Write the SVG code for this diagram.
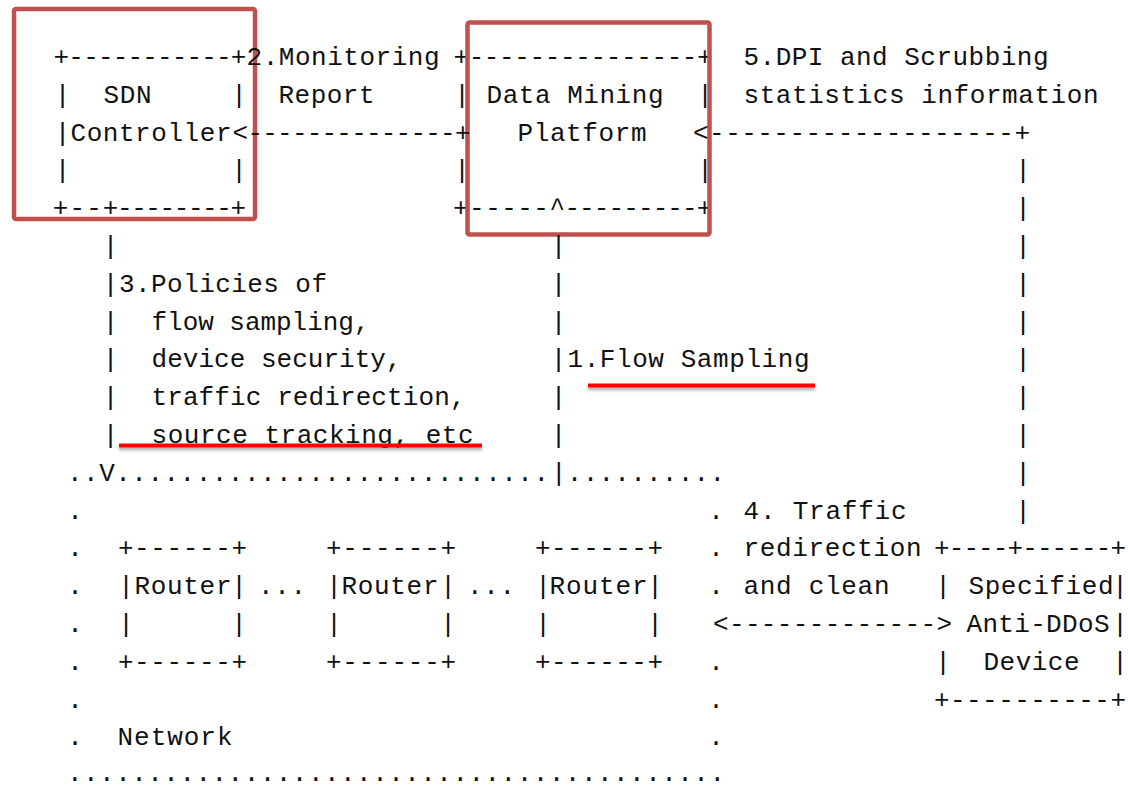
<svg xmlns="http://www.w3.org/2000/svg" width="1128" height="788" viewBox="0 0 1128 788">
  <defs>
    <style>
      .t { font-family: "Liberation Mono", "DejaVu Sans Mono", monospace; font-size: 26px; fill: #111; }
      .c { text-anchor: middle; }
      .frame { fill: none; stroke: #c0504d; stroke-width: 4.5; }
      .mark { fill: #ff0000; filter: url(#shade); }
    </style>
    <filter id="shade" x="-5%" y="-200%" width="110%" height="500%">
      <feDropShadow dx="0" dy="2.5" stdDeviation="1.5" flood-color="#000" flood-opacity="0.35"/>
    </filter>
  </defs>
  <rect width="1128" height="788" fill="#fff"/>

  <!-- SDN Controller box -->
  <g id="sdn-controller" class="t">
    <text x="53.6" y="65" textLength="192.8" lengthAdjust="spacing">+-----------+</text>
    <text class="c" x="62.5" y="102.8">|</text>
    <text x="103.5" y="102.8" textLength="48" lengthAdjust="spacing">SDN</text>
    <text class="c" x="239" y="102.8">|</text>
    <text class="c" x="62.5" y="140.6">|</text>
    <text x="70.5" y="140.6" textLength="161" lengthAdjust="spacing">Controller</text>
    <text class="c" x="62.5" y="178.4">|</text>
    <text class="c" x="239" y="178.4">|</text>
    <text x="52.8" y="216.2" textLength="49" lengthAdjust="spacing">+--</text>
    <text x="102.8" y="216.2" textLength="143.3" lengthAdjust="spacing">+--------+</text>
    <rect class="frame" x="14" y="9" width="241" height="210" rx="2"/>
  </g>

  <!-- Data Mining Platform box -->
  <g id="data-mining-platform" class="t">
    <text x="453.4" y="65" textLength="259.3" lengthAdjust="spacing">+---------------+</text>
    <text class="c" x="462" y="102.8">|</text>
    <text x="486.5" y="102.8" textLength="177" lengthAdjust="spacing">Data Mining</text>
    <text class="c" x="705" y="102.8">|</text>
    <text x="517.5" y="140.6" textLength="129" lengthAdjust="spacing">Platform</text>
    <text class="c" x="462" y="178.4">|</text>
    <text class="c" x="705" y="178.4">|</text>
    <text x="453" y="216.2" textLength="112" lengthAdjust="spacing">+-----^</text>
    <text x="564.4" y="216.2" textLength="148" lengthAdjust="spacing">---------+</text>
    <rect class="frame" x="467.5" y="22.5" width="242" height="212" rx="2"/>
  </g>

  <!-- Network area with routers; the top edge carries the policy arrowhead V and the sampling tap | -->
  <g id="network" class="t">
    <text x="67" y="480.8" textLength="482" lengthAdjust="spacing">..V...........................</text>
    <text x="551" y="480.8" textLength="174" lengthAdjust="spacing">|..........</text>
    <text class="c" x="75" y="518.6">.</text>
    <text class="c" x="75" y="556.4">.</text>
    <text class="c" x="75" y="594.2">.</text>
    <text class="c" x="75" y="632">.</text>
    <text class="c" x="75" y="669.8">.</text>
    <text class="c" x="75" y="707.6">.</text>
    <text class="c" x="75" y="745.4">.</text>
    <text class="c" x="716" y="518.6">.</text>
    <text class="c" x="716" y="556.4">.</text>
    <text class="c" x="716" y="594.2">.</text>
    <text class="c" x="716" y="669.8">.</text>
    <text class="c" x="716" y="707.6">.</text>
    <text class="c" x="716" y="745.4">.</text>
    <text x="67" y="781" textLength="658" lengthAdjust="spacing">.........................................</text>
    <text x="117.5" y="745.4" textLength="115" lengthAdjust="spacing">Network</text>
    <text x="258" y="594.2" textLength="48" lengthAdjust="spacing">...</text>
    <text x="467" y="594.2" textLength="48" lengthAdjust="spacing">...</text>
  </g>

  <g id="router-1" class="t">
    <text x="117.9" y="556.4" textLength="129.1" lengthAdjust="spacing">+------+</text>
    <text class="c" x="126" y="594.2">|</text>
    <text x="134.5" y="594.2" textLength="97" lengthAdjust="spacing">Router</text>
    <text class="c" x="239" y="594.2">|</text>
    <text class="c" x="126" y="632">|</text>
    <text class="c" x="239" y="632">|</text>
    <text x="117.9" y="669.8" textLength="129.1" lengthAdjust="spacing">+------+</text>
  </g>

  <g id="router-2" class="t">
    <text x="325.9" y="556.4" textLength="130.3" lengthAdjust="spacing">+------+</text>
    <text class="c" x="334" y="594.2">|</text>
    <text x="341.5" y="594.2" textLength="97" lengthAdjust="spacing">Router</text>
    <text class="c" x="448" y="594.2">|</text>
    <text class="c" x="334" y="632">|</text>
    <text class="c" x="448" y="632">|</text>
    <text x="325.9" y="669.8" textLength="130.3" lengthAdjust="spacing">+------+</text>
  </g>

  <g id="router-3" class="t">
    <text x="535" y="556.4" textLength="128" lengthAdjust="spacing">+------+</text>
    <text class="c" x="543" y="594.2">|</text>
    <text x="549.5" y="594.2" textLength="98" lengthAdjust="spacing">Router</text>
    <text class="c" x="655" y="594.2">|</text>
    <text class="c" x="543" y="632">|</text>
    <text class="c" x="655" y="632">|</text>
    <text x="535" y="669.8" textLength="128" lengthAdjust="spacing">+------+</text>
  </g>

  <!-- Specified Anti-DDoS Device box -->
  <g id="anti-ddos-device" class="t">
    <text x="934" y="556.4" textLength="192" lengthAdjust="spacing">+----+------+</text>
    <text class="c" x="943" y="594.2">|</text>
    <text x="968.5" y="594.2" textLength="145" lengthAdjust="spacing">Specified</text>
    <text class="c" x="1120" y="594.2">|</text>
    <text x="966.5" y="632" textLength="143" lengthAdjust="spacing">Anti-DDoS</text>
    <text class="c" x="1120" y="632">|</text>
    <text class="c" x="943" y="669.8">|</text>
    <text x="983.5" y="669.8" textLength="96" lengthAdjust="spacing">Device</text>
    <text class="c" x="1120" y="669.8">|</text>
    <text x="934" y="707.6" textLength="192" lengthAdjust="spacing">+----------+</text>
  </g>

  <!-- Connectors -->
  <g id="connectors" class="t">
    <!-- 2. monitoring report: platform to controller -->
    <text x="232.6" y="140.6" textLength="237.9" lengthAdjust="spacing">&lt;--------------+</text>
    <!-- 5. DPI statistics: device to platform -->
    <text x="693" y="140.6" textLength="337" lengthAdjust="spacing">&lt;-------------------+</text>
    <text class="c" x="1023" y="178.4">|</text>
    <text class="c" x="1023" y="216.2">|</text>
    <text class="c" x="1023" y="254">|</text>
    <text class="c" x="1023" y="291.8">|</text>
    <text class="c" x="1023" y="329.6">|</text>
    <text class="c" x="1023" y="367.4">|</text>
    <text class="c" x="1023" y="405.2">|</text>
    <text class="c" x="1023" y="443">|</text>
    <text class="c" x="1023" y="480.8">|</text>
    <text class="c" x="1023" y="518.6">|</text>
    <!-- 3. policies: controller down to network -->
    <text class="c" x="110.5" y="254">|</text>
    <text class="c" x="110.5" y="291.8">|</text>
    <text class="c" x="110.5" y="329.6">|</text>
    <text class="c" x="110.5" y="367.4">|</text>
    <text class="c" x="110.5" y="405.2">|</text>
    <text class="c" x="110.5" y="443">|</text>
    <!-- 1. flow sampling: network up to platform -->
    <text class="c" x="558.5" y="254">|</text>
    <text class="c" x="558.5" y="291.8">|</text>
    <text class="c" x="558.5" y="329.6">|</text>
    <text class="c" x="558.5" y="367.4">|</text>
    <text class="c" x="558.5" y="405.2">|</text>
    <text class="c" x="558.5" y="443">|</text>
    <!-- 4. traffic redirection between network and device -->
    <text x="713" y="632" textLength="239" lengthAdjust="spacing">&lt;-------------&gt;</text>
  </g>

  <!-- Connector labels -->
  <g id="labels" class="t">
    <text x="246.5" y="65" textLength="193" lengthAdjust="spacing">2.Monitoring</text>
    <text x="278.5" y="102.8" textLength="96" lengthAdjust="spacing">Report</text>
    <text x="743.5" y="65" textLength="305" lengthAdjust="spacing">5.DPI and Scrubbing</text>
    <text x="743.5" y="102.8" textLength="355" lengthAdjust="spacing">statistics information</text>
    <text x="119" y="291.8" textLength="208" lengthAdjust="spacing">3.Policies of</text>
    <text x="151.5" y="329.6" textLength="218" lengthAdjust="spacing">flow sampling,</text>
    <text x="151.5" y="367.4" textLength="250" lengthAdjust="spacing">device security,</text>
    <text x="151.5" y="405.2" textLength="314" lengthAdjust="spacing">traffic redirection,</text>
    <text x="151.5" y="443" textLength="322" lengthAdjust="spacing">source tracking, etc</text>
    <text x="567.5" y="367.4" textLength="242" lengthAdjust="spacing">1.Flow Sampling</text>
    <text x="743.5" y="518.6" textLength="163" lengthAdjust="spacing">4. Traffic</text>
    <text x="743.5" y="556.4" textLength="178" lengthAdjust="spacing">redirection</text>
    <text x="743.5" y="594.2" textLength="146" lengthAdjust="spacing">and clean</text>
  </g>

  <!-- Highlight underlines -->
  <g id="highlights">
    <rect class="mark" x="588" y="383.5" width="227" height="4"/>
    <rect class="mark" x="119" y="443.5" width="363" height="4"/>
  </g>
</svg>
